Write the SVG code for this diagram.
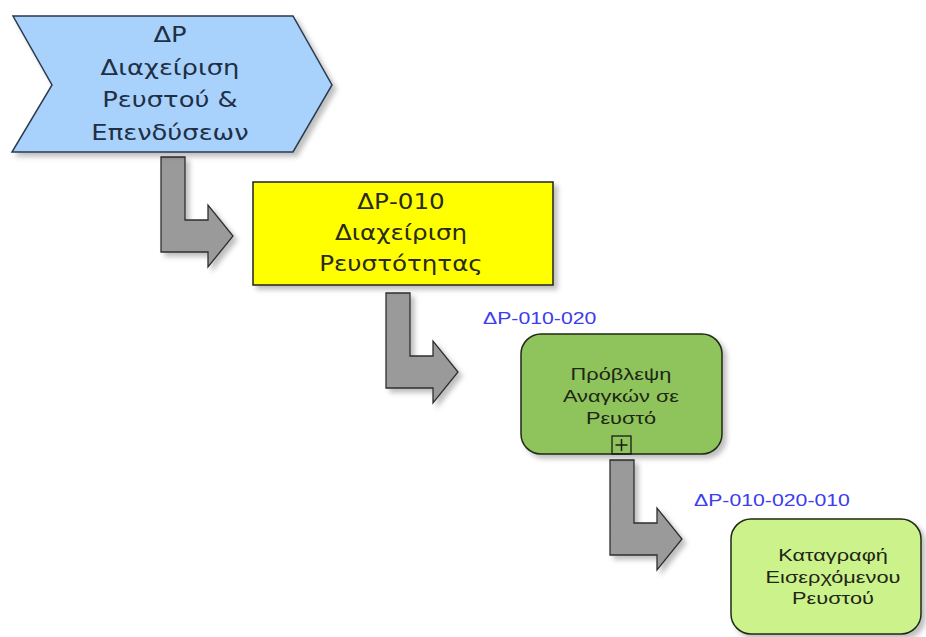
<svg xmlns="http://www.w3.org/2000/svg" width="926" height="637" viewBox="0 0 926 637">
  <defs>
    <filter id="shadow" x="-10%" y="-10%" width="130%" height="130%">
      <feDropShadow dx="4" dy="4" stdDeviation="2.5" flood-color="#000" flood-opacity="0.25"/>
    </filter>
    <!-- L-shaped hierarchy arrow, origin at top-left of the vertical bar -->
    <path id="l-arrow" d="M0,0 H24 V63 H47 V48 L72,79 L47,110 V95 H0 Z"/>
  </defs>
  <style>
    .wide { font-family: "DejaVu Sans", Verdana, sans-serif; font-size: 20.5px; text-anchor: middle; }
    .chev { fill: #a8d2fb; stroke: #2b3a4e; stroke-width: 1.5; }
    .chev-text { fill: #1f2f45; }
    .yellow { fill: #ffff00; stroke: #222; stroke-width: 1.5; }
    .yellow-text { fill: #2a2a1a; }
    .task { stroke: #1f2a14; stroke-width: 1.5; }
    .task-text { font-family: "Liberation Sans", Arial, sans-serif; font-size: 17px; text-anchor: middle; fill: #1e2616; }
    .code { font-family: "Liberation Sans", Arial, sans-serif; font-size: 17px; fill: #3c3cf0; }
    .arrow { fill: #9a9a9a; stroke: #2e2e2e; stroke-width: 1.3; stroke-linejoin: miter; }
  </style>

  <rect width="926" height="637" fill="#ffffff"/>

  <!-- hierarchy connectors -->
  <g id="connectors">
    <use href="#l-arrow" class="arrow" transform="translate(161,157)" filter="url(#shadow)"/>
    <use href="#l-arrow" class="arrow" transform="translate(386,293)" filter="url(#shadow)"/>
    <use href="#l-arrow" class="arrow" transform="translate(610,460)" filter="url(#shadow)"/>
  </g>

  <!-- value chain -->
  <g id="dp">
    <polygon class="chev" points="13,16 293,16 332,85 293,152 12,152 52,85" filter="url(#shadow)"/>
    <g class="wide chev-text" transform="translate(170,0) scale(1.26,1)">
      <text x="0" y="42">ΔΡ</text>
      <text x="0" y="75">Διαχείριση</text>
      <text x="0" y="107">Ρευστού &amp;</text>
      <text x="0" y="140">Επενδύσεων</text>
    </g>
  </g>

  <!-- process group -->
  <g id="dp-010">
    <rect class="yellow" x="253" y="182" width="300" height="103" filter="url(#shadow)"/>
    <g class="wide yellow-text" transform="translate(401,0) scale(1.2,1)">
      <text x="0" y="209">ΔΡ-010</text>
      <text x="0" y="240">Διαχείριση</text>
      <text x="0" y="271">Ρευστότητας</text>
    </g>
  </g>

  <!-- sub-process -->
  <g id="dp-010-020">
    <text class="code" transform="translate(483,324) scale(1.25,1)">ΔΡ-010-020</text>
    <rect class="task" x="521" y="334" width="201" height="120" rx="20" fill="#8fc45c" filter="url(#shadow)"/>
    <g class="task-text" transform="translate(621,0) scale(1.28,1)">
      <text x="0" y="380">Πρόβλεψη</text>
      <text x="0" y="402">Αναγκών σε</text>
      <text x="0" y="424">Ρευστό</text>
    </g>
    <rect x="612" y="436" width="19" height="18" fill="none" stroke="#1a1a1a" stroke-width="1.3"/>
    <path d="M621.5,439 V451 M615.5,445 H627.5" stroke="#1a1a1a" stroke-width="1.5"/>
  </g>

  <!-- activity -->
  <g id="dp-010-020-010">
    <text class="code" transform="translate(694,506) scale(1.25,1)">ΔΡ-010-020-010</text>
    <rect class="task" x="731" y="519" width="190" height="115" rx="20" fill="#ccf28c" filter="url(#shadow)"/>
    <g class="task-text" transform="translate(833,0) scale(1.28,1)">
      <text x="0" y="561">Καταγραφή</text>
      <text x="0" y="583">Εισερχόμενου</text>
      <text x="0" y="604">Ρευστού</text>
    </g>
  </g>
</svg>
